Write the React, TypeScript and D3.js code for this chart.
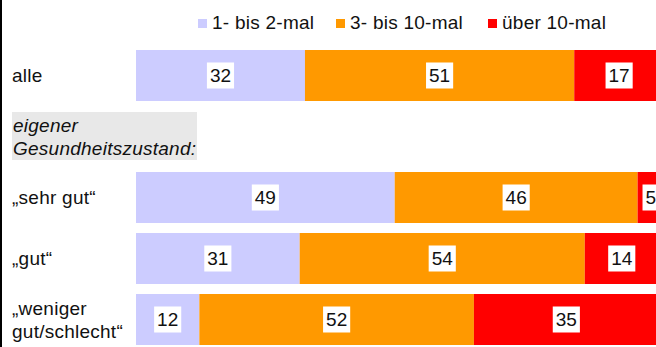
import React from "react";
import * as d3 from "d3";

// Row keys in drawing order; "header" is a grouping label with no bar
const rows = ["alle", "header", "sehrgut", "gut", "weniger"];
const rowLabels: Record<string, string[]> = {
  alle: ["alle"],
  header: ["eigener", "Gesundheitszustand:"],
  sehrgut: ["„sehr gut“"],
  gut: ["„gut“"],
  weniger: ["„weniger", "gut/schlecht“"],
};

// Share of respondents (%) per frequency class
const barRows = ["alle", "sehrgut", "gut", "weniger"];
const selten = [32, 49, 31, 12]; // 1- bis 2-mal
const mittel = [51, 46, 54, 52]; // 3- bis 10-mal
const oft = [17, 5, 14, 35]; // über 10-mal

const seriesNames = ["1- bis 2-mal", "3- bis 10-mal", "über 10-mal"];
const seriesColors = ["#ccccff", "#ff9900", "#ff0000"];

const W = 656;
const H = 347;
const FONT = "'Liberation Sans', Arial, Helvetica, sans-serif";
const FS = 19;
const LS = 0.25;

export default function App() {
  const x = d3.scaleLinear().domain([0, 100]).range([136, 664]);
  const y = d3
    .scaleBand<string>()
    .domain(rows)
    .range([50, 345])
    .paddingInner(10 / 61)
    .paddingOuter(0);

  const table = barRows.map((key, i) => ({
    key,
    s0: selten[i],
    s1: mittel[i],
    s2: oft[i],
  }));
  const stack = d3.stack<any>().keys(["s0", "s1", "s2"])(table);

  const legendX = [198, 336, 488];
  const bw = y.bandwidth();

  return (
    <svg
      width={W}
      height={H}
      style={{ position: "absolute", left: 0, top: 0, fontFamily: FONT }}
    >
      <rect x={0} y={0} width={W} height={H} fill="#fff" />
      <rect x={0} y={0} width={2} height={H} fill="#000" />

      {/* legend */}
      {seriesNames.map((name, i) => (
        <g key={name}>
          <rect x={legendX[i]} y={19} width={9} height={9} fill={seriesColors[i]} />
          <text x={legendX[i] + 14} y={29} fontSize={FS} letterSpacing={LS} fill="#111">
            {name}
          </text>
        </g>
      ))}

      {/* header box */}
      <rect x={12} y={(y("header") as number) + 1} width={185} height={48} fill="#e8e8e8" />

      {/* row labels */}
      {rows.map((key) => {
        const lines = rowLabels[key];
        const cy = (y(key) as number) + bw / 2;
        const lh = 23;
        const first = cy + 6.5 - ((lines.length - 1) * lh) / 2;
        const lx = key === "header" ? 13 : 12;
        return (
          <text
            key={key}
            x={lx}
            fontSize={FS}
            letterSpacing={LS}
            fill="#111"
            fontStyle={key === "header" ? "italic" : "normal"}
          >
            {lines.map((l, j) => (
              <tspan key={j} x={lx} y={first + j * lh}>
                {l}
              </tspan>
            ))}
          </text>
        );
      })}

      {/* stacked bars */}
      {stack.map((layer, si) => (
        <g key={layer.key}>
          {layer.map((d: any) => {
            const top = y(d.data.key) as number;
            const x0 = x(d[0]);
            const x1 = x(d[1]);
            return (
              <rect
                key={d.data.key}
                x={x0}
                y={top}
                width={x1 - x0}
                height={bw}
                fill={seriesColors[si]}
              />
            );
          })}
        </g>
      ))}

      {/* value labels */}
      {stack.map((layer, si) => (
        <g key={"l" + layer.key}>
          {layer.map((d: any) => {
            const v = d[1] - d[0];
            const cx = (x(d[0]) + x(d[1])) / 2;
            const cy = (y(d.data.key) as number) + bw / 2;
            const label = String(v);
            const tw = label.length * FS * 0.556 + 6;
            return (
              <g key={d.data.key}>
                <rect x={cx - tw / 2} y={cy - 13} width={tw} height={26} fill="#fff" />
                <text x={cx} y={cy + 6.8} textAnchor="middle" fontSize={FS} fill="#111">
                  {label}
                </text>
              </g>
            );
          })}
        </g>
      ))}
    </svg>
  );
}
